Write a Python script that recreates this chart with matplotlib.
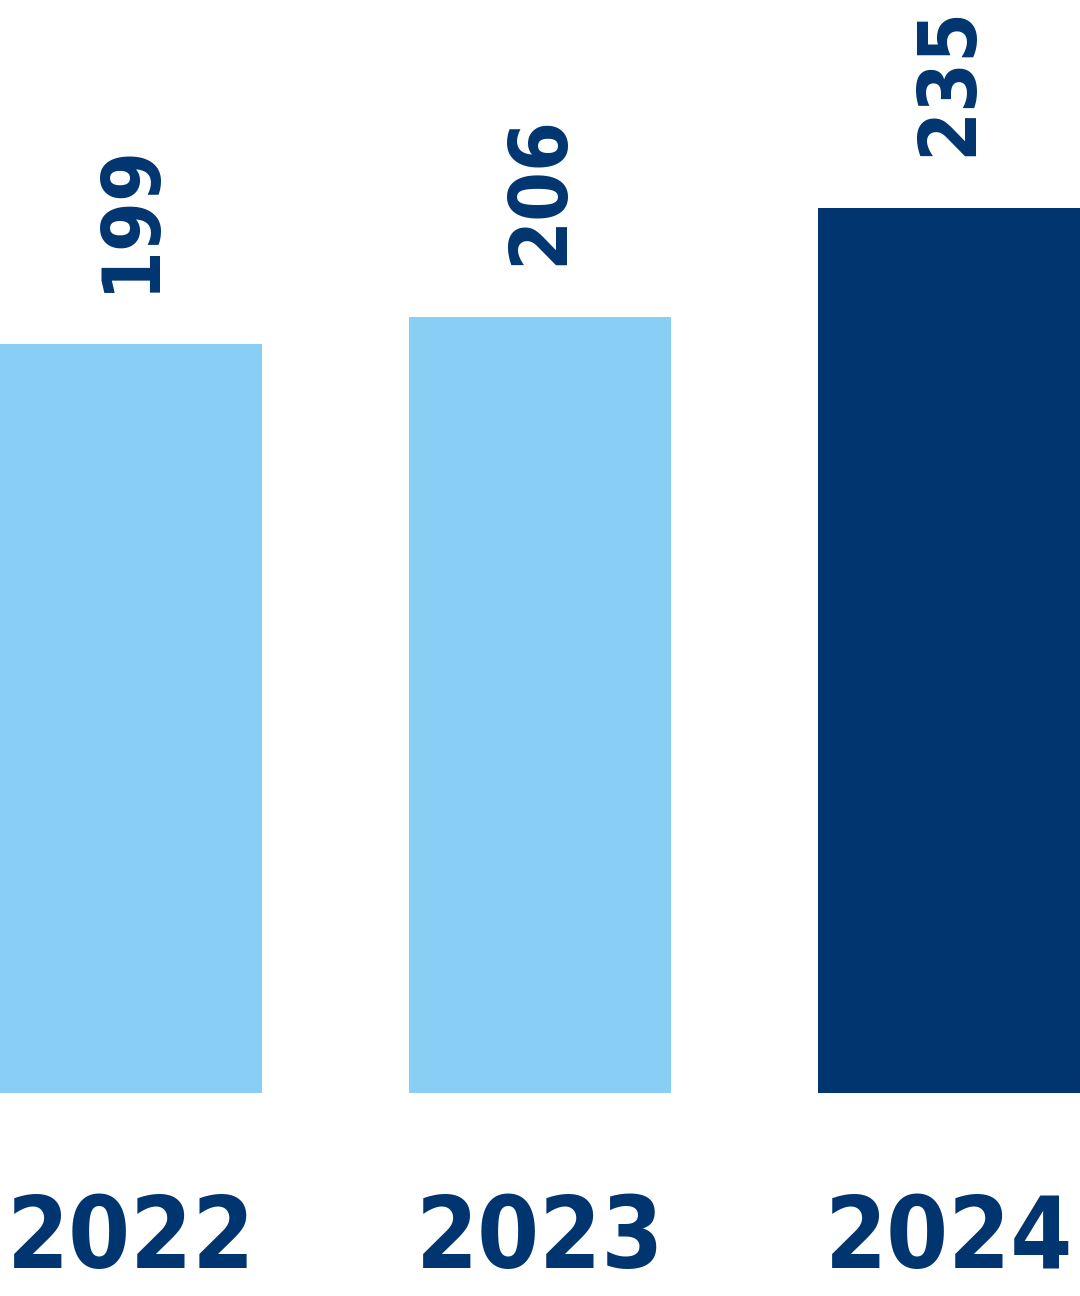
import matplotlib.pyplot as plt
from matplotlib import font_manager
from matplotlib.font_manager import FontProperties

# data
years = ["2022", "2023", "2024"]
values = [199, 206, 235]
bar_colors = ["#89CFF5", "#89CFF5", "#00356F"]
text_color = "#00356F"

# look for a narrow bold face, fall back to Roboto
narrow = [f for f in font_manager.fontManager.ttflist
          if ("Condensed" in f.name or "Narrow" in f.name
              or "condensed" in str(f.stretch) or "Condensed" in f.fname)
          and (f.weight in ("bold", 700) or "Bold" in f.fname)]
if narrow:
    narrow.sort(key=lambda f: f.fname)
    FP = FontProperties(fname=narrow[0].fname)
else:
    FP = FontProperties(family="Roboto", weight="bold")

fig = plt.figure(figsize=(10.8, 12.96), dpi=100)
# baseline of bars sits at 1093 px from the top
ax = fig.add_axes([0, 1 - 1093 / 1296, 1, 1093 / 1296])

x = list(range(len(years)))
ax.bar(x, values, width=0.64, color=bar_colors)
ax.set_xlim(-0.32, 2.32)
ax.set_ylim(0, 290.3)
ax.axis("off")

px_per_unit = 1093 / 290.3

# size the fonts so the label lengths roughly match the reference
r = fig.canvas.get_renderer()
probe = fig.text(0, 0, "2022", fontproperties=FP, fontsize=100)
w100 = probe.get_window_extent(r).width
probe.remove()
year_size = 100 * 248 / w100
probe = fig.text(0, 0, "199", fontproperties=FP, fontsize=100)
v100 = probe.get_window_extent(r).width
probe.remove()
val_size = 100 * 150 / v100

for xi, v, yr in zip(x, values, years):
    ax.text(xi, v + 52 / px_per_unit, str(v), rotation=90, ha="center", va="bottom",
            fontproperties=FP, fontsize=val_size, color=text_color)
    ax.text(xi, -175 / px_per_unit, yr, ha="center", va="baseline", clip_on=False,
            fontproperties=FP, fontsize=year_size, color=text_color)

fig.savefig("out.png", dpi=100)
